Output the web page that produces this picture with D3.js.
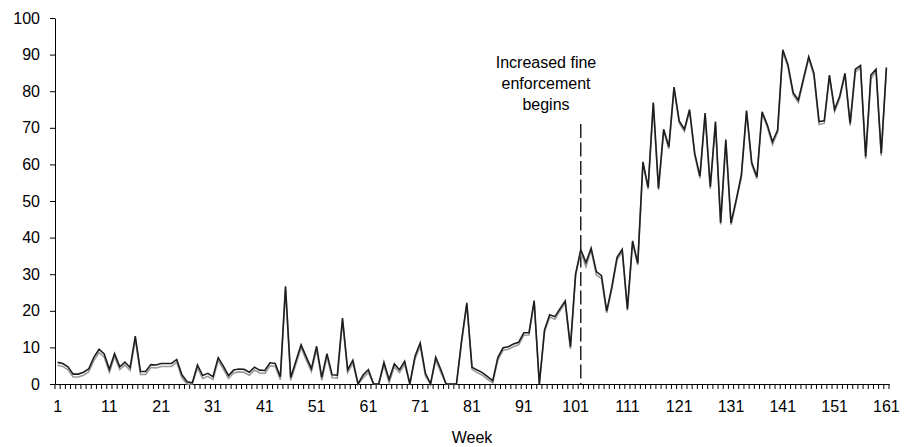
<!DOCTYPE html>
<html>
<head>
<meta charset="utf-8">
<script src="https://cdn.jsdelivr.net/npm/d3@7"></script>
<style>
  html, body { margin: 0; padding: 0; background: #fff; }
  svg { display: block; font-family: "Liberation Sans", Arial, sans-serif; }
</style>
</head>
<body>
<svg id="chart" width="904" height="447"></svg>
<script>
// Weekly percentages, weeks 1..161
const weeks = d3.range(1, 162);

const seriesA = [
  5.9, 5.6, 4.7, 2.7, 2.7, 3.2, 4.1, 7.3, 9.5, 8.2,
  4.0, 8.3, 4.7, 6.0, 4.5, 13.1, 3.4, 3.4, 5.3, 5.2,
  5.6, 5.6, 5.6, 6.7, 2.5, 0.6, 0.3, 5.2, 2.3, 2.9,
  2.0, 7.2, 4.9, 2.3, 3.8, 4.1, 4.0, 3.2, 4.6, 3.8,
  3.7, 5.8, 5.6, 2.0, 26.7, 1.8, 6.2, 10.7, 7.4, 4.2,
  10.3, 1.8, 8.3, 2.5, 2.4, 18.0, 3.9, 6.5, 0, 2.5,
  3.9, 0, 0, 5.9, 1.2, 5.5, 3.9, 6.2, 0, 7.6,
  11.2, 3.0, 0, 7.3, 3.9, 0, 0, 0, 12.0, 22.2,
  4.6, 3.8, 3.1, 2.0, 0.9, 7.3, 9.9, 10.2, 10.9, 11.4,
  14.0, 14.0, 22.8, 0, 14.8, 18.9, 18.4, 20.6, 22.7, 10.2,
  30.1, 36.7, 33.2, 37.1, 30.7, 29.6, 19.9, 26.6, 34.6, 36.8,
  20.5, 39.1, 33.0, 60.7, 53.7, 76.9, 53.5, 69.6, 64.8, 81.1,
  71.9, 69.6, 75.0, 63.0, 56.8, 74.0, 53.9, 71.7, 44.1, 66.8,
  44.0, 50.3, 57.1, 74.7, 60.5, 56.6, 74.4, 70.8, 66.2, 69.4,
  91.3, 87.2, 79.6, 77.6, 83.5, 89.4, 84.9, 71.7, 71.9, 84.4,
  75.0, 78.7, 84.9, 71.2, 86.0, 87.0, 62.1, 84.4, 86.0, 63.0,
  86.5
];

const seriesB = [
  5.1, 4.8, 3.9, 1.9, 1.9, 2.4, 3.3, 6.4, 8.6, 7.3,
  3.2, 7.5, 3.9, 5.2, 3.7, 12.2, 2.6, 2.6, 4.5, 4.4,
  4.8, 4.8, 4.8, 5.9, 1.7, 0, 0, 4.4, 1.5, 2.1,
  1.2, 6.4, 4.1, 1.5, 3.0, 3.3, 3.2, 2.4, 3.8, 3.0,
  2.9, 5.0, 4.8, 1.2, 25.9, 1.0, 5.4, 9.9, 6.6, 3.4,
  9.5, 1.0, 7.5, 1.7, 1.6, 17.2, 3.1, 5.7, 0, 1.7,
  3.1, 0, 0, 5.1, 0.4, 4.7, 3.1, 5.4, 0, 6.8,
  10.4, 2.2, 0, 6.5, 3.1, 0, 0, 0, 11.4, 21.6,
  4.0, 3.1, 2.4, 1.3, 0.3, 6.6, 9.2, 9.5, 10.2, 10.7,
  13.3, 13.4, 22.3, 0, 14.2, 18.3, 17.7, 20.0, 22.1, 9.6,
  29.6, 36.2, 32.0, 36.6, 29.8, 28.8, 19.4, 26.0, 33.9, 36.2,
  20.0, 38.6, 32.5, 60.2, 53.2, 76.4, 53.0, 69.1, 64.2, 80.6,
  71.3, 69.0, 74.5, 62.4, 56.2, 73.5, 53.3, 71.1, 43.6, 66.2,
  43.5, 49.8, 56.5, 74.2, 59.9, 56.0, 73.9, 70.2, 65.4, 68.8,
  90.8, 86.6, 79.0, 76.9, 83.0, 88.9, 84.3, 70.9, 71.2, 83.9,
  74.4, 78.1, 84.4, 70.6, 85.2, 86.4, 61.5, 83.4, 85.4, 62.4,
  86.0
];

const xTickWeeks = [1, 11, 21, 31, 41, 51, 61, 71, 81, 91, 101, 111, 121, 131, 141, 151, 161];
const yTickValues = [0, 10, 20, 30, 40, 50, 60, 70, 80, 90, 100];
const eventWeek = 102;
const eventLines = ["Increased fine", "enforcement", "begins"];
const xTitle = "Week";

const svg = d3.select("#chart");
const plot = { left: 55, right: 889, top: 18, bottom: 384 };

const x = d3.scaleBand().domain(weeks).range([plot.left, plot.right]).paddingInner(0).paddingOuter(0);
const cx = w => x(w) + x.bandwidth() / 2;
const y = d3.scaleLinear().domain([0, 100]).range([plot.bottom, plot.top]);

// y axis
const yAxis = svg.append("g")
  .attr("transform", `translate(${plot.left},0)`)
  .call(d3.axisLeft(y).tickValues(yTickValues).tickSize(5).tickPadding(10).tickSizeOuter(0));
yAxis.select(".domain").attr("stroke", "#000");
yAxis.selectAll(".tick line").attr("stroke", "#000");
yAxis.selectAll("text").attr("font-size", 16).attr("fill", "#000");

// x axis: labels at category centres, small ticks on every category boundary
const xAxis = svg.append("g")
  .attr("transform", `translate(0,${plot.bottom})`)
  .call(d3.axisBottom(x).tickValues(xTickWeeks).tickSize(0).tickPadding(17).tickSizeOuter(0));
xAxis.select(".domain").attr("stroke", "#000");
xAxis.selectAll("text").attr("font-size", 16).attr("fill", "#000");

const boundaries = weeks.map(w => x(w)).concat([plot.right]);
svg.append("g")
  .selectAll("line")
  .data(boundaries)
  .join("line")
  .attr("x1", d => d).attr("x2", d => d)
  .attr("y1", plot.bottom).attr("y2", plot.bottom + 5)
  .attr("stroke", "#000").attr("stroke-width", 1);

svg.append("text")
  .attr("x", (plot.left + plot.right) / 2)
  .attr("y", 443)
  .attr("text-anchor", "middle")
  .attr("font-size", 16)
  .text(xTitle);

// event marker
svg.append("line")
  .attr("x1", cx(eventWeek)).attr("x2", cx(eventWeek))
  .attr("y1", 124).attr("y2", plot.bottom)
  .attr("stroke", "#000").attr("stroke-width", 1.3)
  .attr("stroke-dasharray", "14,4.5");

svg.append("g")
  .selectAll("text")
  .data(eventLines)
  .join("text")
  .attr("x", 546)
  .attr("y", (d, i) => 68 + i * 21)
  .attr("text-anchor", "middle")
  .attr("font-size", 16)
  .text(d => d);

// series
const line = d3.line().x((d, i) => cx(weeks[i])).y(d => y(d));

svg.append("path")
  .datum(seriesB)
  .attr("d", line)
  .attr("fill", "none")
  .attr("stroke", "#9a9a9a")
  .attr("stroke-width", 1.6)
  .attr("stroke-linejoin", "miter");

svg.append("path")
  .datum(seriesA)
  .attr("d", line)
  .attr("fill", "none")
  .attr("stroke", "#1e1e1e")
  .attr("stroke-width", 1.6)
  .attr("stroke-linejoin", "miter");
</script>
</body>
</html>
